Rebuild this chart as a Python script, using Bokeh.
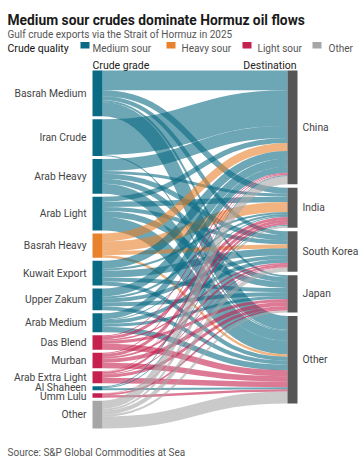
from bokeh.plotting import figure
from bokeh.models import Range1d, ColumnDataSource
from bokeh.core.properties import value
from bokeh.embed import file_html
from bokeh.resources import INLINE

# ---------------- data (thousand b/d) ----------------
destinations = ["China", "India", "South Korea", "Japan", "Other"]
grades = ["Basrah Medium", "Iran Crude", "Arab Heavy", "Arab Light", "Basrah Heavy",
          "Kuwait Export", "Upper Zakum", "Arab Medium", "Das Blend", "Murban",
          "Arab Extra Light", "Al Shaheen", "Umm Lulu", "Other"]
grade_quality = ["Medium sour", "Medium sour", "Medium sour", "Medium sour", "Heavy sour",
                 "Medium sour", "Medium sour", "Medium sour", "Light sour", "Light sour",
                 "Light sour", "Medium sour", "Light sour", "Other"]

# flows to China, India, South Korea, Japan, Other
basrah_medium = [900, 270, 180, 90, 630]
iran_crude = [1620, 0, 0, 0, 50]
arab_heavy = [540, 135, 225, 225, 450]
arab_light = [225, 245, 180, 270, 610]
basrah_heavy = [360, 450, 180, 0, 110]
kuwait_export = [360, 90, 315, 180, 180]
upper_zakum = [360, 90, 180, 180, 180]
arab_medium = [270, 45, 160, 135, 250]
das_blend = [45, 135, 70, 135, 270]
murban = [45, 135, 90, 180, 250]
arab_extra_light = [25, 90, 45, 135, 250]
al_shaheen = [45, 45, 0, 0, 90]
umm_lulu = [0, 0, 25, 70, 110]
other_grades = [360, 90, 180, 90, 540]

quality_names = ["Medium sour", "Heavy sour", "Light sour", "Other"]
quality_colors = ["#0b6a84", "#e8822c", "#c5214f", "#a6a6a8"]

TITLE = "Medium sour crudes dominate Hormuz oil flows"
SUBTITLE = "Gulf crude exports via the Strait of Hormuz in 2025"
SOURCE = "Source: S&P Global Commodities at Sea"

# ---------------- layout ----------------
W, H = 361, 460
NODE_W = 10
XL, XR = 92, 287
TOP, BOTTOM_L = 70, 428
PAD_L, PAD_R = 3.0, 3.5
LABEL_MIN_GAP = 8.6
FONT = value("Roboto")
DEST_COLOR = "#565656"

flows = [basrah_medium, iran_crude, arab_heavy, arab_light, basrah_heavy, kuwait_export,
         upper_zakum, arab_medium, das_blend, murban, arab_extra_light, al_shaheen,
         umm_lulu, other_grades]
qcolor = dict(zip(quality_names, quality_colors))

src_tot = [sum(r) for r in flows]
dst_tot = [sum(r[j] for r in flows) for j in range(len(destinations))]
ky = (BOTTOM_L - TOP - PAD_L * (len(grades) - 1)) / sum(src_tot)

src_y0 = []
y = TOP
for t in src_tot:
    src_y0.append(y)
    y += t * ky + PAD_L
dst_y0 = []
y = TOP
for t in dst_tot:
    dst_y0.append(y)
    y += t * ky + PAD_R

p = figure(width=W, height=H, x_range=Range1d(0, W), y_range=Range1d(H, 0),
           min_border=0, x_axis_location=None, y_axis_location=None,
           toolbar_location=None, output_backend="svg")
p.grid.visible = False
p.outline_line_color = None
p.background_fill_color = "white"

# links
src_off = list(src_y0)
dst_off = list(dst_y0)
lk = dict(x0=[], y0=[], x1=[], y1=[], cx0=[], cy0=[], cx1=[], cy1=[], w=[], c=[])
x0 = XL + NODE_W
x1 = XR
xm = (x0 + x1) / 2
for i, row in enumerate(flows):
    for j, v in enumerate(row):
        if v <= 0:
            continue
        h = v * ky
        sy = src_off[i] + h / 2
        ty = dst_off[j] + h / 2
        src_off[i] += h
        dst_off[j] += h
        lk["x0"].append(x0); lk["y0"].append(sy)
        lk["x1"].append(x1); lk["y1"].append(ty)
        lk["cx0"].append(xm); lk["cy0"].append(sy)
        lk["cx1"].append(xm); lk["cy1"].append(ty)
        lk["w"].append(h)
        lk["c"].append(qcolor[grade_quality[i]])
p.bezier(x0="x0", y0="y0", x1="x1", y1="y1", cx0="cx0", cy0="cy0", cx1="cx1", cy1="cy1",
         line_width="w", line_color="c", line_alpha=0.6, line_cap="butt",
         source=ColumnDataSource(lk))

# source nodes
p.quad(left=[XL] * len(grades), right=[XL + NODE_W] * len(grades),
       top=src_y0, bottom=[y0 + t * ky for y0, t in zip(src_y0, src_tot)],
       fill_color=[qcolor[q] for q in grade_quality], line_color=None)
# destination nodes
p.quad(left=[XR] * len(destinations), right=[XR + NODE_W] * len(destinations),
       top=dst_y0, bottom=[y0 + t * ky for y0, t in zip(dst_y0, dst_tot)],
       fill_color=DEST_COLOR, line_color=None)

# node labels (small nodes: nudge labels apart so they don't overlap)
src_ly = [y0 + t * ky / 2 for y0, t in zip(src_y0, src_tot)]
for _ in range(20):
    for k in range(len(src_ly) - 1):
        gap = src_ly[k + 1] - src_ly[k]
        if gap < LABEL_MIN_GAP:
            d = (LABEL_MIN_GAP - gap) / 2
            src_ly[k] -= d
            src_ly[k + 1] += d
p.text(x=[XL - 6] * len(grades), y=src_ly,
       text=grades, text_align="right", text_baseline="middle", text_font=FONT,
       text_font_size="10.3px", text_color="#444444")
p.text(x=[XR + NODE_W + 5] * len(destinations),
       y=[y0 + t * ky / 2 for y0, t in zip(dst_y0, dst_tot)],
       text=destinations, text_align="left", text_baseline="middle", text_font=FONT,
       text_font_size="10.3px", text_color="#444444")

# column headers
p.text(x=[XL], y=[65], text=["Crude grade"], text_align="left", text_baseline="alphabetic",
       text_font=FONT, text_font_size="10.5px", text_color="#222222")
p.text(x=[XR + NODE_W - 1], y=[65], text=["Destination"], text_align="right",
       text_baseline="alphabetic", text_font=FONT, text_font_size="10.5px", text_color="#222222")

# title, subtitle, source
p.text(x=[7], y=[19], text=[TITLE], text_align="left", text_baseline="alphabetic",
       text_font=FONT, text_font_size="13.8px", text_font_style="bold", text_color="#1a1a1a")
p.text(x=[7], y=[33.5], text=[SUBTITLE], text_align="left", text_baseline="alphabetic",
       text_font=FONT, text_font_size="10px", text_color="#555555")
p.text(x=[7], y=[452], text=[SOURCE], text_align="left", text_baseline="alphabetic",
       text_font=FONT, text_font_size="10px", text_color="#555555")

# legend
p.text(x=[7], y=[47.5], text=["Crude quality"], text_align="left", text_baseline="alphabetic",
       text_font=FONT, text_font_size="10.5px", text_color="#111111")
leg_sq_x = [80, 166, 242, 312]
leg_tx_x = [92, 181, 257, 328]
p.quad(left=leg_sq_x, right=[x + 9 for x in leg_sq_x], top=[41.5] * 4, bottom=[48] * 4,
       fill_color=quality_colors, line_color=None)
p.text(x=leg_tx_x, y=[47.5] * 4, text=quality_names, text_align="left",
       text_baseline="alphabetic", text_font=FONT, text_font_size="10px",
       text_color="#555555")

open("out.html", "w").write(file_html(p, INLINE))
